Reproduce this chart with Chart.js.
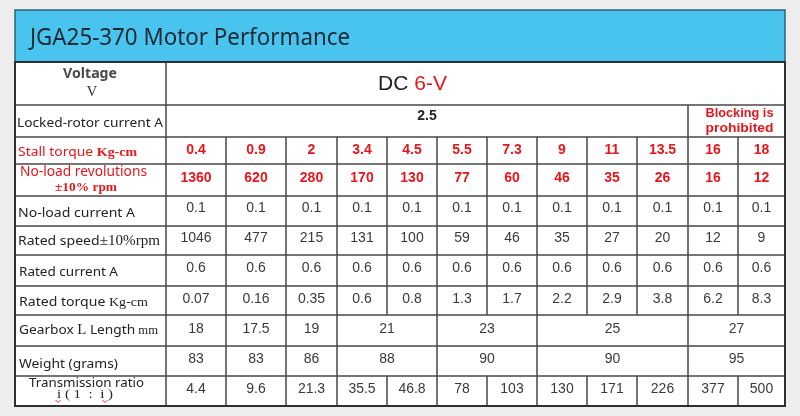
<!DOCTYPE html>
<html><head><meta charset="utf-8">
<script src="https://cdn.jsdelivr.net/npm/chart.js@4.4.1/dist/chart.umd.min.js"></script>
<style>html,body{margin:0;padding:0;background:#ededed;overflow:hidden}#wrap{width:800px;height:416px;position:relative}</style>
</head><body><div id="wrap"><canvas id="c" width="800" height="416"></canvas></div>
<script>
// ---------- content ----------
const title = 'JGA25-370 Motor Performance';
const voltageLabel = ['Voltage', 'V'];
const voltageValue = ['DC ', '6-V'];
const lockedRotorLabel = 'Locked-rotor current A';
const lockedRotorCurrent = '2.5';
const blockingNote = ['Blocking is', 'prohibited'];
const stallLabel = ['Stall torque ', 'Kg-cm'];
const noLoadRevLabel = ['No-load revolutions', '±10% rpm'];
const noLoadCurrentLabel = 'No-load current A';
const ratedSpeedLabel = ['Rated speed', '±10%rpm'];
const ratedCurrentLabel = 'Rated current A';
const ratedTorqueLabel = ['Rated torque ', 'Kg-cm'];
const gearboxLabel = ['Gearbox ', 'L', ' Length', ' mm'];
const weightLabel = 'Weight (grams)';
const ratioLabel = ['Transmission ratio', 'i ( 1  :  i )'];

const stallTorque   = [0.4, 0.9, 2, 3.4, 4.5, 5.5, 7.3, 9, 11, 13.5, 16, 18];
const noLoadSpeed   = [1360, 620, 280, 170, 130, 77, 60, 46, 35, 26, 16, 12];
const noLoadCurrent = [0.1, 0.1, 0.1, 0.1, 0.1, 0.1, 0.1, 0.1, 0.1, 0.1, 0.1, 0.1];
const ratedSpeed    = [1046, 477, 215, 131, 100, 59, 46, 35, 27, 20, 12, 9];
const ratedCurrent  = [0.6, 0.6, 0.6, 0.6, 0.6, 0.6, 0.6, 0.6, 0.6, 0.6, 0.6, 0.6];
const ratedTorque   = [0.07, 0.16, 0.35, 0.6, 0.8, 1.3, 1.7, 2.2, 2.9, 3.8, 6.2, 8.3];
const gearboxLength = [18, 17.5, 19, 21, 23, 25, 27];
const gearboxSpans  = [1, 1, 1, 2, 2, 3, 2];
const weightGrams   = [83, 83, 86, 88, 90, 90, 95];
const weightSpans   = [1, 1, 1, 2, 2, 3, 2];
const ratio         = [4.4, 9.6, 21.3, 35.5, 46.8, 78, 103, 130, 171, 226, 377, 500];

// ---------- layout (value-space of the hidden linear scales) ----------
const colEdges = [15, 166, 226, 286, 337, 387, 437, 487, 537, 587, 637, 688, 738, 785];
const rowEdges = [10, 62, 105, 137, 164, 196, 226, 255, 286, 315, 346, 376, 406];

const SANS = '"Noto Sans", "Liberation Sans", Arial, sans-serif';
const ARIAL = '"Liberation Sans", Arial, sans-serif';
const SERIF = '"Liberation Serif", "DejaVu Serif", serif';
const RED = '#e5161c';
const DARK = '#232323';
const VAL = '#3a3a3a';

const tablePlugin = {
  id: 'specTable',
  beforeDraw(chart) {
    const ctx = chart.ctx;
    const xs = chart.scales.x, ys = chart.scales.y;
    const X = v => xs.getPixelForValue(v);
    const Y = v => ys.getPixelForValue(v);
    const cx = i => X(colEdges[i]);
    const ry = i => Y(rowEdges[i]);

    // background
    ctx.save();
    ctx.fillStyle = '#ededed';
    ctx.fillRect(0, 0, chart.width, chart.height);
    ctx.fillStyle = '#ffffff';
    ctx.fillRect(cx(0), ry(0), cx(13) - cx(0), ry(12) - ry(0));
    // header
    ctx.fillStyle = '#48c4ee';
    ctx.fillRect(cx(0), ry(0), cx(13) - cx(0), ry(1) - ry(0));
    ctx.strokeStyle = '#2d6478';
    ctx.lineWidth = 1.5;
    ctx.strokeRect(cx(0), ry(0), cx(13) - cx(0), ry(1) - ry(0));

    // grid lines
    ctx.strokeStyle = '#474747';
    ctx.lineWidth = 1.5;
    const line = (x1, y1, x2, y2) => { ctx.beginPath(); ctx.moveTo(x1, y1); ctx.lineTo(x2, y2); ctx.stroke(); };
    for (let r = 2; r <= 11; r++) line(cx(0), ry(r), cx(13), ry(r));
    line(cx(1), ry(1), cx(1), ry(12));
    line(cx(11), ry(2), cx(11), ry(3));
    const fullRows = [3, 4, 5, 6, 7, 8, 11];
    fullRows.forEach(r => { for (let c = 2; c <= 12; c++) line(cx(c), ry(r), cx(c), ry(r + 1)); });
    const spanRow = (r, spans) => {
      let c = 1;
      spans.forEach((s, k) => { c += s; if (k < spans.length - 1) line(cx(c), ry(r), cx(c), ry(r + 1)); });
    };
    spanRow(9, gearboxSpans);
    spanRow(10, weightSpans);
    ctx.strokeStyle = '#2e2e2e';
    ctx.lineWidth = 2;
    ctx.strokeRect(cx(0), ry(1), cx(13) - cx(0), ry(12) - ry(1));
    ctx.restore();

    const draw = (parts, x, y, align, targetW) => {
      ctx.save();
      ctx.textBaseline = 'alphabetic';
      ctx.textAlign = 'left';
      let total = 0;
      const ws = parts.map(p => { ctx.font = p[1]; const w = ctx.measureText(p[0]).width; total += w; return w; });
      const s = targetW ? targetW / total : 1;
      const w = total * s;
      let left = align === 'center' ? x - w / 2 : x;
      ctx.translate(left, y);
      ctx.scale(s, 1);
      let off = 0;
      parts.forEach((p, i) => { ctx.font = p[1]; ctx.fillStyle = p[2]; ctx.fillText(p[0], off, 0); off += ws[i]; });
      ctx.restore();
    };

    // title
    draw([[title, '23px ' + SANS, '#1d2a35']], X(30), Y(45), 'left', 320);
    // voltage row
    draw([[voltageLabel[0], 'bold 14px ' + SANS, '#4a4a4a']], X(90), Y(78), 'center', 54);
    draw([[voltageLabel[1], '15px ' + SERIF, '#333']], X(92), Y(95.5), 'center');
    draw([[voltageValue[0], '21px ' + ARIAL, DARK], [voltageValue[1], '21px ' + ARIAL, RED]], X(378), Y(90), 'left', 69);
    // locked rotor row
    draw([[lockedRotorLabel, '13px ' + SANS, DARK]], X(17), Y(127), 'left', 146);
    draw([[lockedRotorCurrent, 'bold 14px ' + ARIAL, DARK]], (cx(1) + cx(11)) / 2, Y(120), 'center');
    draw([[blockingNote[0], 'bold 13px ' + ARIAL, RED]], (cx(11) + cx(13)) / 2 + 3, Y(117), 'center', 68);
    draw([[blockingNote[1], 'bold 13px ' + ARIAL, RED]], (cx(11) + cx(13)) / 2 + 3, Y(131.5), 'center', 68);

    // row labels
    draw([[stallLabel[0], '13px ' + SANS, RED], [stallLabel[1], 'bold 13px ' + SERIF, RED]], X(18), Y(155.5), 'left', 119);
    draw([[noLoadRevLabel[0], '13.5px ' + SANS, RED]], X(20), Y(176), 'left', 127);
    draw([[noLoadRevLabel[1], 'bold 12px ' + SERIF, RED]], X(55), Y(191), 'left', 62);
    draw([[noLoadCurrentLabel, '13px ' + SANS, DARK]], X(18), Y(216.5), 'left', 117);
    draw([[ratedSpeedLabel[0], '13px ' + SANS, DARK], [ratedSpeedLabel[1], '14px ' + SERIF, DARK]], X(18), Y(245), 'left', 142);
    draw([[ratedCurrentLabel, '13px ' + SANS, DARK]], X(19), Y(275.5), 'left', 99);
    draw([[ratedTorqueLabel[0], '13px ' + SANS, DARK], [ratedTorqueLabel[1], '13px ' + SERIF, DARK]], X(19), Y(305.5), 'left', 129);
    draw([[gearboxLabel[0], '13px ' + SANS, DARK], [gearboxLabel[1], '14px ' + SERIF, DARK],
          [gearboxLabel[2], '13px ' + SANS, DARK], [gearboxLabel[3], '12px ' + SERIF, DARK]], X(19), Y(334), 'left', 139);
    draw([[weightLabel, '13px ' + SANS, DARK]], X(19), Y(367.5), 'left', 99);
    draw([[ratioLabel[0], '13px ' + SANS, DARK]], X(86.5), Y(386.5), 'center', 115);
    draw([[ratioLabel[1], '12px ' + SERIF, DARK]], X(85), Y(398), 'center', 56);
    ctx.save();
    ctx.strokeStyle = '#e03030'; ctx.lineWidth = 1;
    [X(58), X(105)].forEach(px => {
      ctx.beginPath(); ctx.moveTo(px - 2.5, Y(400)); ctx.lineTo(px, Y(402.5)); ctx.lineTo(px + 2.5, Y(400)); ctx.stroke();
    });
    ctx.restore();

    // value rows
    const valueRow = (vals, spans, baseY, font, color) => {
      let c = 1;
      vals.forEach((v, k) => {
        const s = spans ? spans[k] : 1;
        const mid = (cx(c) + cx(c + s)) / 2;
        draw([[String(v), font, color]], mid, Y(baseY), 'center');
        c += s;
      });
    };
    valueRow(stallTorque, null, 153.5, 'bold 14px ' + ARIAL, RED);
    valueRow(noLoadSpeed, null, 181.5, 'bold 14px ' + ARIAL, RED);
    valueRow(noLoadCurrent, null, 212, '14px ' + ARIAL, VAL);
    valueRow(ratedSpeed, null, 242, '14px ' + ARIAL, VAL);
    valueRow(ratedCurrent, null, 272, '14px ' + ARIAL, VAL);
    valueRow(ratedTorque, null, 303, '14px ' + ARIAL, VAL);
    valueRow(gearboxLength, gearboxSpans, 333, '14px ' + ARIAL, VAL);
    valueRow(weightGrams, weightSpans, 363, '14px ' + ARIAL, VAL);
    valueRow(ratio, null, 393, '14px ' + ARIAL, VAL);
  }
};

new Chart(document.getElementById('c'), {
  type: 'scatter',
  data: { datasets: [{ data: [], pointRadius: 0 }] },
  options: {
    responsive: false,
    animation: false,
    events: [],
    layout: { padding: 0 },
    plugins: { legend: { display: false }, tooltip: { enabled: false } },
    scales: {
      x: { type: 'linear', min: 0, max: 800, display: false },
      y: { type: 'linear', min: 0, max: 416, reverse: true, display: false }
    }
  },
  plugins: [tablePlugin]
});
</script>
</body></html>
